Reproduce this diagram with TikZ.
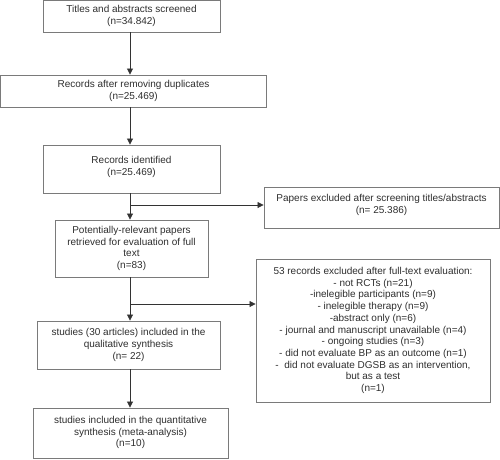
\documentclass[tikz,border=0pt]{standalone}
\usepackage{fontspec}
\setmainfont{Liberation Sans}
\usetikzlibrary{arrows.meta}
\definecolor{txt}{HTML}{2E2E2E}
\definecolor{frame}{HTML}{7A7A7A}
\definecolor{lin}{HTML}{333333}
\tikzset{
  box/.style={draw=frame, line width=0.9pt, rectangle, align=center, inner sep=0pt,
    text=txt, font={\fontsize{10}{11.7}\selectfont}},
  arr/.style={draw=lin, line width=0.8pt, -{Triangle[length=6pt,width=6pt]}},
  ln/.style={draw=lin, line width=0.8pt}
}
\begin{document}
\begin{tikzpicture}[x=1pt,y=-1pt]
\useasboundingbox (0,0) rectangle (500,459);
\node[box, minimum width=177, minimum height=31.5] (b1) at (131.5,16.25) {Titles and abstracts screened\\(n=34.842)};
\node[box, minimum width=266, minimum height=32] (b2) at (133.5,91) {Records after removing duplicates\\(n=25.469)};
\node[box, minimum width=177, minimum height=48] (b3) at (131.5,169) {Records identified\\(n=25.469)\rule[-6pt]{0pt}{0pt}};
\node[box, minimum width=153, minimum height=57] (b4) at (131.5,248.5) {Potentially-relevant papers\\retrieved for evaluation of full\\text\\(n=83)};
\node[box, minimum width=235, minimum height=41] (b5) at (381.5,207.5) {Papers excluded after screening titles/abstracts\\(n= 25.386)\rule[-7pt]{0pt}{0pt}};
\node[box, minimum width=234, minimum height=143] (b6) at (373,330.5) {53 records excluded after full-text evaluation:\\- not RCTs (n=21)\\-inelegible participants (n=9)\\- inelegible therapy (n=9)\\-abstract only (n=6)\\- journal and manuscript unavailable (n=4)\\- ongoing studies (n=3)\\- did not evaluate BP as an outcome (n=1)\\-\ \ did not evaluate DGSB as an intervention,\\but as a test\\(n=1)};
\node[box, minimum width=183, minimum height=48] (b7) at (128.5,345) {studies (30 articles) included in the\\qualitative synthesis\\(n= 22)};
\node[box, minimum width=195, minimum height=50] (b8) at (130.5,433) {studies included in the quantitative\\synthesis (meta-analysis)\\(n=10)\rule[-3pt]{0pt}{0pt}};
\coordinate (spine) at (130,0);
\coordinate (j1) at (130,205);
\coordinate (j2) at (130,304);
\draw[arr] (b1.south -| spine) -- (b2.north -| spine);
\draw[arr] (b2.south -| spine) -- (b3.north -| spine);
\draw[arr] (b3.south -| spine) -- (b4.north -| spine);
\draw[arr] (j1) -- (j1 -| b5.west);
\draw[arr] (b4.south -| spine) -- (b7.north -| spine);
\draw[arr] (j2) -- (j2 -| b6.west);
\draw[arr] (b7.south -| spine) -- (b8.north -| spine);
\end{tikzpicture}
\end{document}
